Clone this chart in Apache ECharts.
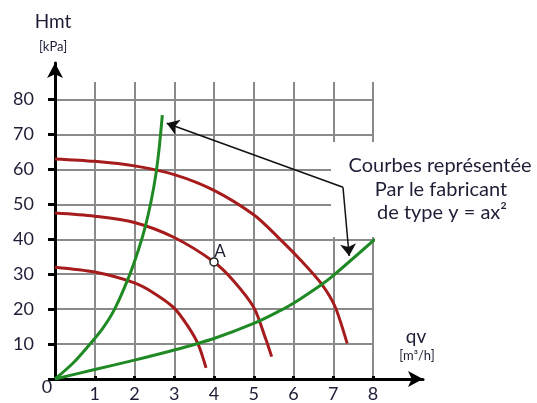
<!DOCTYPE html>
<html>
<head>
<meta charset="utf-8">
<script src="https://cdn.jsdelivr.net/npm/echarts@6/dist/echarts.min.js"></script>
<style>
  html, body { margin: 0; padding: 0; background: #fff; }
  #chart { width: 537px; height: 403px; }
</style>
</head>
<body>
<div id="chart"></div>
<script>
// pump curves (red)
const pump1Qv  = [0, 1, 2, 2.5, 3, 3.35, 3.6, 3.8];
const pump1Hmt = [32, 30.6, 27.5, 24.5, 20.3, 15, 10, 3.2];
const pump2Qv  = [0, 1, 2, 3, 4, 4.5, 5, 5.3, 5.45];
const pump2Hmt = [47.5, 46.6, 44.8, 40.5, 33.5, 28, 20.5, 11.5, 6.4];
const pump3Qv  = [0, 1, 2, 3, 4, 5, 5.6, 6.2, 6.7, 7.05, 7.35];
const pump3Hmt = [63, 62.3, 61, 58.5, 54, 47, 40.7, 33.8, 27.3, 20.6, 10.2];

// network curves y = ax^2 (green)
const net1Qv  = [0, 0.45, 0.88, 1.2, 1.5, 1.85, 2.1, 2.28, 2.42, 2.53, 2.62, 2.7];
const net1Hmt = [0, 4.5, 10, 14.5, 20, 29, 37, 44, 51, 58, 66, 75.5];
const net2Qv  = [0, 1, 2, 3, 4, 5, 5.6, 6, 6.7, 7, 8.05];
const net2Hmt = [0, 2.7, 5.4, 8.3, 11.6, 15.9, 19.2, 21.7, 27, 29.6, 40];

// operating point A
const pointA = [4, 33.5];

const xTicks = [0, 1, 2, 3, 4, 5, 6, 7, 8];
const yTicks = [0, 10, 20, 30, 40, 50, 60, 70, 80];

const textColor = '#1e1e36';
const gridColor = '#8a8a8a';
const redColor = '#a61b1b';
const greenColor = '#1f8a24';
const fontName = 'Lato, "Open Sans", sans-serif';

function zip(xs, ys) {
    return xs.map((x, i) => [x, ys[i]]);
}

function label(text, x, y, size) {
    return {
        type: 'text', z: 10, x: x, y: y,
        style: {
            text: text, fill: textColor, font: size + 'px ' + fontName,
            textAlign: 'center', textVerticalAlign: 'middle'
        }
    };
}

function curve(name, xs, ys, color) {
    return {
        name: name, type: 'line', smooth: 0.3, showSymbol: false,
        data: zip(xs, ys), lineStyle: { color: color, width: 3 }, z: color === greenColor ? 4 : 3
    };
}

const chart = echarts.init(document.getElementById('chart'));

// pixel frame: origin at (55, 379), qv = 8 at x 373, hmt = 80 at y 99.5
const series = [
    curve('pompe 1', pump1Qv, pump1Hmt, redColor),
    curve('pompe 2', pump2Qv, pump2Hmt, redColor),
    curve('pompe 3', pump3Qv, pump3Hmt, redColor),
    curve('réseau 1', net1Qv, net1Hmt, greenColor),
    curve('réseau 2', net2Qv, net2Hmt, greenColor),
    { name: 'A', type: 'scatter', data: [pointA], symbol: 'circle', symbolSize: 8, z: 6,
      itemStyle: { color: '#fff', borderColor: '#222', borderWidth: 1.5, opacity: 1 },
      label: { show: true, formatter: 'A', position: [5, -14], fontSize: 17, color: textColor,
               opacity: 1, textBorderWidth: 0 } }
];

// annotation arrows pointing to the green curves
series[4].markLine = {
    silent: true, symbol: ['none', 'arrow'], symbolSize: 12,
    lineStyle: { color: '#111', width: 1.5, type: 'solid' },
    label: { show: false },
    data: [
        [{ coord: [7.245, 54.9] }, { coord: [2.81, 73.2] }],
        [{ coord: [7.245, 54.9] }, { coord: [7.40, 35.2] }]
    ]
};

const option = {
    animation: false,
    backgroundColor: '#fff',
    textStyle: { fontFamily: fontName },
    grid: [
        // 0: data + horizontal grid lines (0..8 x 0..80)
        { left: 55, right: 164, top: 99.5, bottom: 24 },
        // 1: vertical grid lines (0..8 x 0..85)
        { left: 55, right: 164, top: 82, bottom: 24 },
        // 2: axis lines with arrows
        { left: 55, right: 114, top: 63, bottom: 24 }
    ],
    xAxis: [
        {
            gridIndex: 0, type: 'value', min: 0, max: 8, interval: 1,
            axisLine: { show: false }, axisTick: { show: false },
            axisLabel: { show: false }, splitLine: { show: false }
        },
        {
            gridIndex: 1, type: 'value', min: xTicks[0], max: xTicks[xTicks.length - 1], interval: 1,
            axisLine: { show: false },
            axisTick: { show: true, length: 5, lineStyle: { color: '#000', width: 3 } },
            axisLabel: {
                margin: 9, fontSize: 18, color: textColor,
                formatter: v => (v === 0 ? '' : String(v))
            },
            splitLine: { show: true, lineStyle: { color: gridColor, width: 2 } }
        },
        {
            gridIndex: 2, type: 'value', min: 0, max: 1,
            axisLine: {
                show: true, symbol: ['none', 'arrow'], symbolSize: [12, 15],
                lineStyle: { color: '#000', width: 3 }
            },
            axisTick: { show: false }, axisLabel: { show: false }, splitLine: { show: false }
        }
    ],
    yAxis: [
        {
            gridIndex: 0, type: 'value', min: yTicks[0], max: yTicks[yTicks.length - 1], interval: 10,
            axisLine: { show: false },
            axisTick: { show: true, length: 7, lineStyle: { color: '#000', width: 3 } },
            axisLabel: {
                margin: 21, fontSize: 18, color: textColor,
                formatter: v => (v === 0 ? '' : String(v))
            },
            splitLine: { show: true, lineStyle: { color: gridColor, width: 2 } }
        },
        {
            gridIndex: 1, type: 'value', min: 0, max: 85,
            show: false
        },
        {
            gridIndex: 2, type: 'value', min: 0, max: 1,
            axisLine: {
                show: true, symbol: ['none', 'arrow'], symbolSize: [12, 15],
                lineStyle: { color: '#000', width: 3 }
            },
            axisTick: { show: false }, axisLabel: { show: false }, splitLine: { show: false }
        }
    ],
    graphic: [
        // white box behind the note
        { type: 'rect', z: 1, shape: { x: 331, y: 142, width: 206, height: 95 }, style: { fill: '#fff' } },
        label('Courbes représentée', 440, 166, 20),
        label('Par le fabricant', 441, 190, 20),
        label('de type y = ax²', 442, 213, 20),
        // axis names
        label('Hmt', 53, 22, 19),
        label('[kPa]', 53, 47, 13),
        label('qv', 416, 337, 19),
        label('[m³/h]', 417, 356, 13),
        label('0', 47, 387, 18)
    ],
    series: series
};

chart.setOption(option);
</script>
</body>
</html>
